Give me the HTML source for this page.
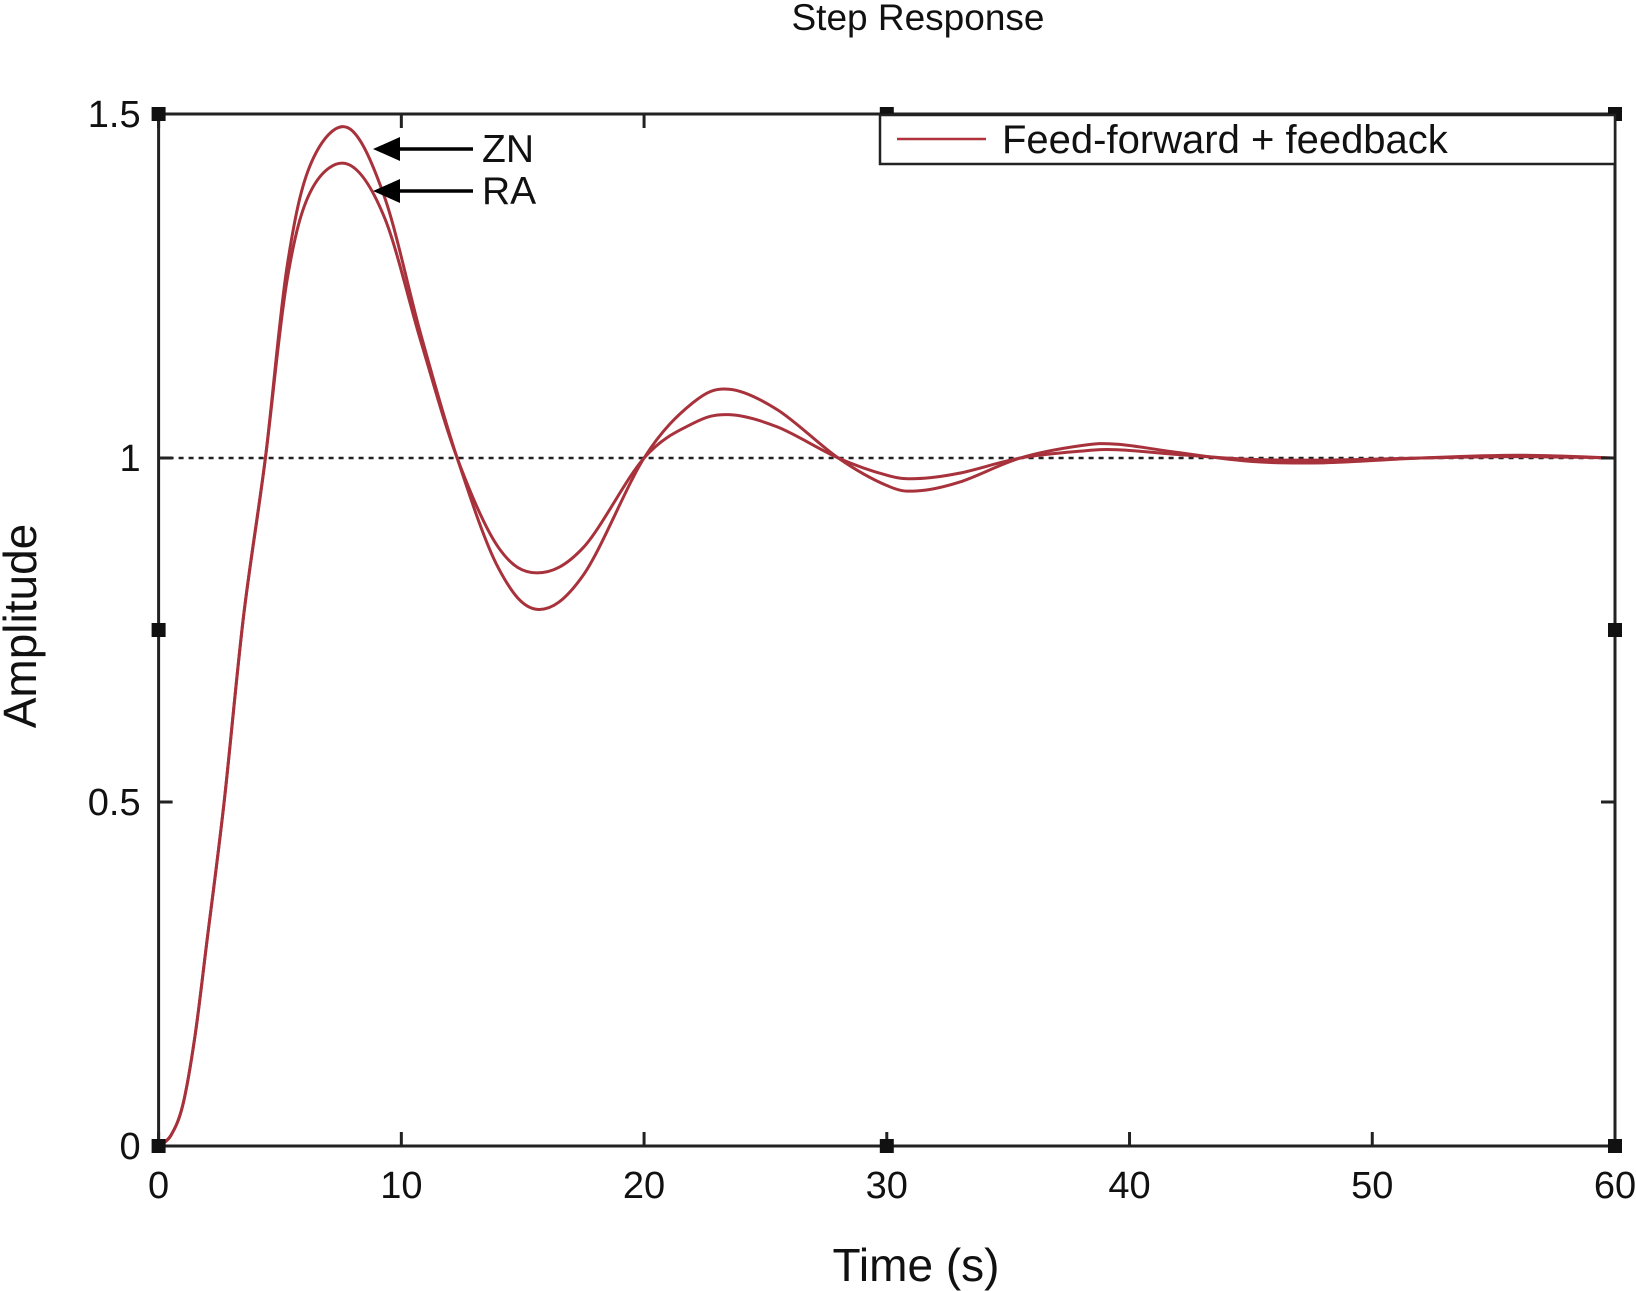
<!DOCTYPE html>
<html><head><meta charset="utf-8"><style>
html,body{margin:0;padding:0;background:#fff;}
svg{display:block;font-family:"Liberation Sans",Arial,sans-serif;}
</style></head><body>
<svg id="chart" width="1636" height="1291" viewBox="0 0 1636 1291" xmlns="http://www.w3.org/2000/svg">
<text x="918" y="30" font-size="37" text-anchor="middle" fill="#111">Step Response</text>
<g id="plot"></g>
<text x="916" y="1281" font-size="46" text-anchor="middle" fill="#111">Time (s)</text>
<text transform="translate(36,626) rotate(-90)" font-size="46" text-anchor="middle" fill="#111">Amplitude</text>
<g>
<rect x="880" y="115" width="735" height="49" fill="#fff" stroke="#222" stroke-width="2.5"/>
<line x1="897" y1="139" x2="986" y2="139" stroke="#b0323a" stroke-width="2.5"/>
<text x="1002" y="153" font-size="40" fill="#111">Feed-forward + feedback</text>
</g>
<g>
<line x1="395" y1="149" x2="473" y2="149" stroke="#000" stroke-width="3.5"/>
<polygon points="373,149 400,137 400,161" fill="#000"/>
<text x="482" y="162" font-size="39" fill="#111">ZN</text>
<line x1="395" y1="191" x2="473" y2="191" stroke="#000" stroke-width="3.5"/>
<polygon points="373,191 400,179 400,203" fill="#000"/>
<text x="482" y="204" font-size="39" fill="#111">RA</text>
</g>
</svg>
<script>
const times=[0,0.5,1,1.5,2,2.7,3.5,4.4,5.3,6.3,7.8,9.3,10.8,12.3,14,15.6,17.5,20,22,23.5,25.5,28,30,31.2,33,35.5,38,39.5,42,45,48,52,56,60];
const znValues=[0,0.015,0.06,0.16,0.3,0.5,0.77,1.0,1.28,1.43,1.48,1.38,1.18,1.0,0.84,0.78,0.83,1.0,1.08,1.10,1.07,1.0,0.96,0.952,0.965,1.0,1.018,1.02,1.008,0.995,0.993,1.0,1.004,1.0];
const raValues=[0,0.015,0.06,0.16,0.3,0.5,0.77,1.0,1.26,1.39,1.427,1.35,1.17,1.0,0.87,0.833,0.87,1.0,1.05,1.063,1.045,1.0,0.975,0.97,0.978,1.0,1.01,1.012,1.005,0.998,0.997,1.0,1.002,1.0];
const xTicks=[0,10,20,30,40,50,60];
const xTickLabels=["0","10","20","30","40","50","60"];
const yTicks=[0,0.5,1,1.5];
const yTickLabels=["0","0.5","1","1.5"];
const refValue=1;

const X0=158.6,X1=1615,Y0=1146,Y1=114,XMAX=60,YMAX=1.5;
const sx=t=>X0+(X1-X0)*t/XMAX;
const sy=v=>Y0-(Y0-Y1)*v/YMAX;
const NS="http://www.w3.org/2000/svg";
const g=document.getElementById('plot');
function mk(tag,attrs){const e=document.createElementNS(NS,tag);for(const k in attrs)e.setAttribute(k,attrs[k]);g.appendChild(e);return e;}

const ref=mk('line',{x1:sx(0),x2:sx(XMAX),y1:sy(refValue),y2:sy(refValue),stroke:'#222','stroke-width':2.5,'stroke-dasharray':'5,5'});



function path(vals){
  const pts=times.map((t,i)=>[sx(t),sy(vals[i])]);
  let d='M'+pts[0][0]+','+pts[0][1];
  for(let i=0;i<pts.length-1;i++){
    const p0=pts[Math.max(0,i-1)],p1=pts[i],p2=pts[i+1],p3=pts[Math.min(pts.length-1,i+2)];
    const c1=[p1[0]+(p2[0]-p0[0])/6,p1[1]+(p2[1]-p0[1])/6];
    const c2=[p2[0]-(p3[0]-p1[0])/6,p2[1]-(p3[1]-p1[1])/6];
    d+=' C'+c1[0]+','+c1[1]+' '+c2[0]+','+c2[1]+' '+p2[0]+','+p2[1];
  }
  return d;
}
const zn=mk('path',{d:path(znValues),fill:'none',stroke:'#a8323c','stroke-width':3});


const ra=mk('path',{d:path(raValues),fill:'none',stroke:'#a8323c','stroke-width':3});



const box=mk('rect',{x:X0,y:Y1,width:X1-X0,height:Y0-Y1,fill:'none',stroke:'#222','stroke-width':3});



xTicks.forEach((t,i)=>{
  const a=mk('line',{x1:sx(t),x2:sx(t),y1:Y0,y2:Y0-14,stroke:'#222','stroke-width':3});
  
  
  const b=mk('line',{x1:sx(t),x2:sx(t),y1:Y1,y2:Y1+14,stroke:'#222','stroke-width':3});
  
  
  const tx=mk('text',{x:sx(t),y:Y0+52,'font-size':38,'text-anchor':'middle',fill:'#111'});
  tx.textContent=xTickLabels[i];
  
  
});
yTicks.forEach((v,i)=>{
  const a=mk('line',{x1:X0,x2:X0+14,y1:sy(v),y2:sy(v),stroke:'#222','stroke-width':3});
  
  
  const b=mk('line',{x1:X1,x2:X1-14,y1:sy(v),y2:sy(v),stroke:'#222','stroke-width':3});
  
  
  const tx=mk('text',{x:X0-18,y:sy(v)+13,'font-size':38,'text-anchor':'end',fill:'#111'});
  tx.textContent=yTickLabels[i];
  
  
});
[[0,0],[30,0],[60,0],[0,0.75],[60,0.75],[0,1.5],[30,1.5],[60,1.5]].forEach(p=>{
  const r=mk('rect',{x:sx(p[0])-7,y:sy(p[1])-7,width:14,height:14,fill:'#111'});
  
  
});
</script>
</body></html>
